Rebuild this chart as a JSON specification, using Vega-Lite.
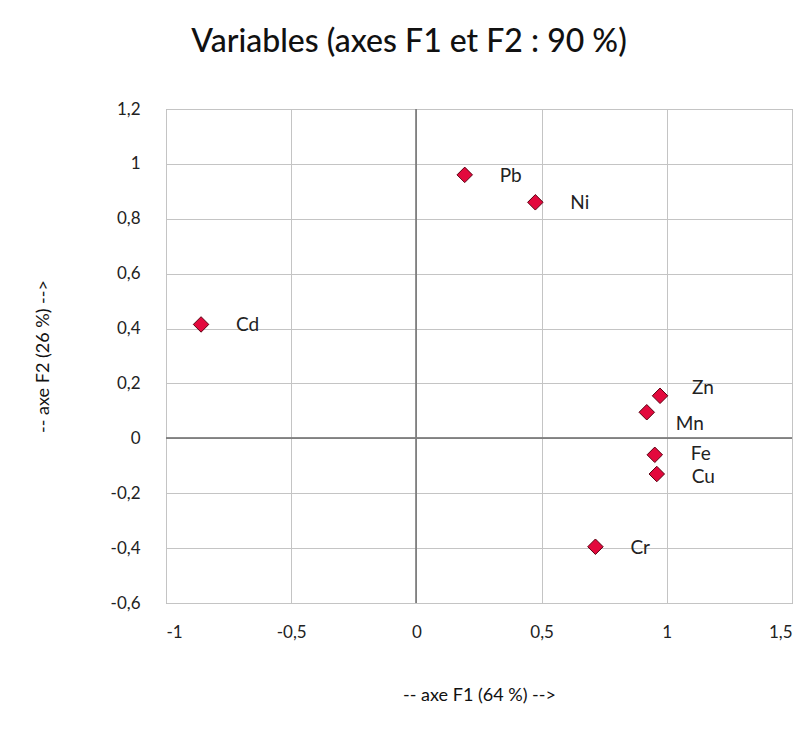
{
  "$schema": "https://vega.github.io/schema/vega-lite/v6.json",
  "width": 626,
  "height": 494,
  "autosize": "none",
  "padding": {"left": 166, "top": 109, "right": 19, "bottom": 141},
  "background": "white",
  "title": {
    "text": "Variables (axes F1 et F2 : 90 %)",
    "anchor": "middle",
    "dx": -70,
    "offset": 41,
    "fontSize": 32,
    "font": "Lato",
    "fontWeight": 500,
    "color": "#111"
  },
  "config": {
    "view": {"stroke": "#999", "strokeWidth": 1},
    "font": "Lato",
    "axis": {
      "domain": false,
      "ticks": false,
      "gridColor": "#c4c4c4",
      "gridWidth": 1,
      "labelFont": "Lato",
      "labelFontSize": 17,
      "labelColor": "#222",
      "titleFont": "Lato",
      "titleFontSize": 18,
      "titleFontWeight": "normal",
      "titleColor": "#111"
    }
  },
  "data": {
    "values": [
      {"var": "Pb", "F1": 0.193, "F2": 0.96},
      {"var": "Ni", "F1": 0.475, "F2": 0.86},
      {"var": "Cd", "F1": -0.86, "F2": 0.415},
      {"var": "Zn", "F1": 0.973, "F2": 0.155},
      {"var": "Mn", "F1": 0.92, "F2": 0.095},
      {"var": "Fe", "F1": 0.952, "F2": -0.06},
      {"var": "Cu", "F1": 0.96, "F2": -0.13},
      {"var": "Cr", "F1": 0.715, "F2": -0.395}
    ]
  },
  "encoding": {
    "x": {
      "field": "F1",
      "type": "quantitative",
      "scale": {"domain": [-1, 1.5], "nice": false, "zero": false},
      "axis": {
        "values": [-1, -0.5, 0, 0.5, 1, 1.5],
        "labelExpr": "replace(toString(round(datum.value*10)/10), '.', ',')",
        "labelPadding": 21,
        "title": "-- axe F1 (64 %) -->",
        "titlePadding": 46
      }
    },
    "y": {
      "field": "F2",
      "type": "quantitative",
      "scale": {"domain": [-0.6, 1.2], "nice": false, "zero": false},
      "axis": {
        "values": [-0.6, -0.4, -0.2, 0, 0.2, 0.4, 0.6, 0.8, 1, 1.2],
        "labelExpr": "replace(toString(round(datum.value*10)/10), '.', ',')",
        "labelPadding": 26,
        "title": "-- axe F2 (26 %) -->",
        "titlePadding": 58
      }
    }
  },
  "layer": [
    {
      "mark": {"type": "rule", "color": "#808080", "strokeWidth": 1.2},
      "encoding": {"x": {"datum": 0}, "y": null}
    },
    {
      "mark": {"type": "rule", "color": "#808080", "strokeWidth": 1.2},
      "encoding": {"y": {"datum": 0}, "x": null}
    },
    {
      "mark": {"type": "point", "shape": "diamond", "filled": true, "size": 240, "fill": "#e3093d", "stroke": "#5a0010", "strokeWidth": 1, "opacity": 1}
    },
    {
      "transform": [{"filter": "datum.var !== 'Zn' && datum.var !== 'Mn' && datum.var !== 'Fe' && datum.var !== 'Cu'"}],
      "mark": {"type": "text", "align": "left", "baseline": "middle", "dx": 35, "dy": 1, "fontSize": 19, "font": "Lato", "color": "#222"},
      "encoding": {"text": {"field": "var"}}
    },
    {
      "transform": [{"filter": "datum.var === 'Fe'"}],
      "mark": {"type": "text", "align": "left", "baseline": "middle", "dx": 36, "dy": -1, "fontSize": 19, "font": "Lato", "color": "#222"},
      "encoding": {"text": {"field": "var"}}
    },
    {
      "transform": [{"filter": "datum.var === 'Cu'"}],
      "mark": {"type": "text", "align": "left", "baseline": "middle", "dx": 35, "dy": 3, "fontSize": 19, "font": "Lato", "color": "#222"},
      "encoding": {"text": {"field": "var"}}
    },
    {
      "transform": [{"filter": "datum.var === 'Zn'"}],
      "mark": {"type": "text", "align": "left", "baseline": "middle", "dx": 32, "dy": -8, "fontSize": 19, "font": "Lato", "color": "#222"},
      "encoding": {"text": {"field": "var"}}
    },
    {
      "transform": [{"filter": "datum.var === 'Mn'"}],
      "mark": {"type": "text", "align": "left", "baseline": "middle", "dx": 29, "dy": 12, "fontSize": 19, "font": "Lato", "color": "#222"},
      "encoding": {"text": {"field": "var"}}
    }
  ]
}
